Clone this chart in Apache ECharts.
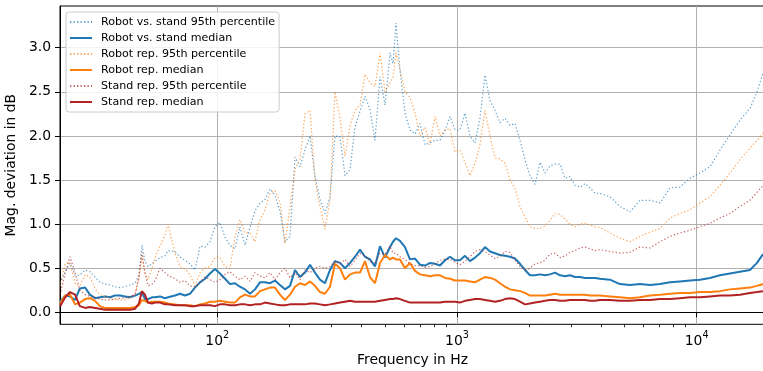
<!DOCTYPE html>
<html><head><meta charset="utf-8">
<script src="https://cdn.jsdelivr.net/npm/echarts@6/dist/echarts.min.js"></script>
<style>html,body{margin:0;padding:0;background:#fff}#c{width:763px;height:371px}</style>
</head><body><div id="c"></div>
<script>
// Frequencies (Hz) shared by all series
const freqHz = [
  22.1, 23.2, 24.3, 25.5, 26.7, 28.1, 29.4, 30.9, 32.4, 34.0, 35.7, 37.4, 39.3, 41.2, 43.2, 45.4,
  47.1, 48.5, 49.9, 51.4, 53.4, 55.0,
  57.7, 60.5, 62.3, 63.5,
  66.6, 69.9, 73.3, 76.9, 80.7, 84.7, 88.9, 93.2, 97.8, 102.6, 107.7, 113.0, 118.5, 124.3, 130.5, 136.9, 143.6, 150.7, 158.1, 165.9,
  174.1, 182.6, 191.6, 201.1, 211.0, 221.3, 232.2, 243.7, 255.6, 268.2, 281.4, 295.3, 309.8, 325.1, 341.1, 357.9, 375.5, 393.9, 413.3, 433.6,
  455.0, 477.4, 500.9, 525.6,
  540.8, 556.6,
  578.4, 606.8, 636.7, 668.1, 700.9, 735.5, 771.7, 809.6, 849.5, 891.3, 935.1, 981.1, 1029, 1080, 1133, 1189, 1247, 1309, 1373, 1441,
  1511, 1586, 1664, 1746, 1832, 1922, 2016, 2116, 2220, 2329, 2443, 2564, 2690, 2822, 2961, 3107, 3260, 3420, 3589, 3765, 3950,
  4348, 4786, 5268, 5799, 6385, 7030, 7738, 8518, 9376, 10322, 11363, 12508, 13768, 15156, 16684,
  17850, 18912
];

const robotVsStand95 = [
  0.33,0.46,0.56,0.42,0.42,0.48,0.46,0.40,0.34,0.32,0.31,0.29,0.28,0.29,0.31,0.33,
  0.42,0.76,0.58,0.52,0.55,0.58,
  0.62,0.64,0.70,0.70,
  0.69,0.63,0.59,0.55,0.48,0.75,0.74,0.80,0.97,1.02,0.85,0.76,0.72,0.97,0.76,0.96,1.15,1.24,1.28,1.40,
  1.32,1.15,0.80,0.86,1.76,1.65,1.84,2.00,1.54,1.28,1.12,1.31,2.00,1.99,1.55,1.62,2.10,2.28,2.45,2.30,
  1.95,2.67,2.35,2.94,
  2.82,3.28,
  2.75,2.26,2.07,2.02,2.14,1.90,1.92,1.95,1.95,2.06,2.22,2.07,2.07,2.26,2.00,1.92,2.20,2.69,2.40,2.29,
  2.15,2.20,2.12,2.14,1.95,1.73,1.55,1.45,1.70,1.58,1.66,1.68,1.68,1.52,1.54,1.44,1.42,1.46,1.41,1.35,1.35,
  1.31,1.20,1.14,1.27,1.27,1.24,1.41,1.42,1.52,1.58,1.65,1.84,2.01,2.18,2.31,
  2.50,2.71
];
const robotVsStandMedian = [
  0.12,0.19,0.18,0.14,0.27,0.28,0.20,0.16,0.17,0.18,0.17,0.19,0.19,0.18,0.17,0.19,
  0.21,0.23,0.15,0.15,0.17,0.17,
  0.18,0.16,0.17,0.17,
  0.19,0.21,0.19,0.21,0.28,0.34,0.38,0.44,0.49,0.44,0.38,0.32,0.33,0.29,0.26,0.21,0.26,0.34,0.34,0.33,
  0.36,0.31,0.26,0.30,0.48,0.40,0.45,0.54,0.45,0.37,0.33,0.48,0.58,0.56,0.50,0.56,0.63,0.71,0.63,0.60,
  0.52,0.75,0.62,0.74,
  0.80,0.84,
  0.81,0.74,0.60,0.61,0.54,0.53,0.56,0.55,0.53,0.59,0.63,0.59,0.59,0.64,0.58,0.62,0.67,0.74,0.69,0.67,
  0.65,0.64,0.63,0.61,0.55,0.48,0.42,0.42,0.43,0.42,0.43,0.45,0.42,0.41,0.42,0.40,0.40,0.39,0.39,0.39,0.38,
  0.37,0.32,0.31,0.32,0.31,0.32,0.34,0.35,0.36,0.37,0.39,0.42,0.44,0.46,0.48,
  0.56,0.66
];
const robotRep95 = [
  0.30,0.55,0.57,0.32,0.30,0.43,0.40,0.27,0.20,0.18,0.16,0.15,0.14,0.14,0.16,0.20,
  0.38,0.63,0.45,0.37,0.50,0.62,
  0.75,0.88,1.00,0.90,
  0.67,0.52,0.49,0.43,0.30,0.45,0.50,0.52,0.62,0.62,0.52,0.50,0.85,1.05,0.90,0.90,0.80,1.05,1.16,1.35,
  1.38,1.25,0.78,1.20,1.62,1.73,2.25,2.29,1.50,1.20,0.94,1.28,2.50,2.20,1.77,2.12,2.29,2.35,2.70,2.60,
  2.56,2.94,2.50,2.60,
  2.67,2.94,
  2.75,2.50,2.44,2.26,2.00,2.10,1.90,2.22,2.00,2.07,2.08,1.82,1.84,1.70,1.55,1.69,1.90,2.29,2.00,1.75,
  1.74,1.69,1.50,1.41,1.20,1.08,0.97,0.95,0.95,0.98,1.04,1.12,1.11,1.06,1.00,0.97,1.00,1.01,0.99,0.97,0.96,
  0.90,0.84,0.80,0.86,0.91,0.95,1.07,1.12,1.16,1.24,1.31,1.44,1.58,1.73,1.86,
  1.95,2.03
];
const robotRepMedian = [
  0.10,0.19,0.20,0.09,0.11,0.15,0.16,0.13,0.07,0.05,0.05,0.05,0.05,0.05,0.05,0.06,
  0.08,0.14,0.13,0.11,0.12,0.12,
  0.12,0.11,0.10,0.10,
  0.09,0.08,0.08,0.08,0.07,0.09,0.10,0.12,0.12,0.13,0.12,0.11,0.11,0.17,0.20,0.18,0.18,0.24,0.26,0.28,
  0.28,0.20,0.14,0.20,0.29,0.33,0.31,0.35,0.30,0.23,0.21,0.29,0.55,0.50,0.37,0.43,0.45,0.45,0.58,0.40,
  0.33,0.56,0.65,0.60,
  0.62,0.60,
  0.60,0.50,0.56,0.47,0.43,0.42,0.41,0.42,0.42,0.39,0.38,0.36,0.36,0.36,0.35,0.34,0.37,0.40,0.39,0.37,
  0.33,0.29,0.26,0.25,0.24,0.22,0.19,0.19,0.19,0.19,0.20,0.21,0.20,0.20,0.20,0.20,0.20,0.20,0.19,0.19,0.19,
  0.18,0.17,0.16,0.17,0.19,0.20,0.21,0.22,0.22,0.23,0.23,0.24,0.26,0.27,0.28,
  0.30,0.32
];
const standRep95 = [
  0.20,0.44,0.63,0.45,0.25,0.20,0.18,0.17,0.15,0.14,0.14,0.15,0.16,0.16,0.18,0.20,
  0.40,0.68,0.45,0.30,0.32,0.36,
  0.50,0.45,0.42,0.44,
  0.38,0.34,0.36,0.30,0.29,0.34,0.40,0.37,0.34,0.37,0.43,0.46,0.41,0.37,0.41,0.35,0.45,0.41,0.39,0.45,
  0.37,0.45,0.50,0.39,0.45,0.37,0.48,0.45,0.50,0.52,0.50,0.52,0.58,0.55,0.60,0.52,0.59,0.67,0.64,0.58,
  0.56,0.67,0.66,0.75,
  0.67,0.67,
  0.63,0.60,0.55,0.53,0.53,0.51,0.52,0.55,0.59,0.60,0.60,0.57,0.54,0.58,0.63,0.69,0.71,0.69,0.65,0.61,
  0.63,0.69,0.68,0.59,0.52,0.48,0.50,0.55,0.56,0.59,0.66,0.67,0.62,0.64,0.68,0.70,0.73,0.74,0.72,0.70,0.71,
  0.69,0.67,0.68,0.74,0.73,0.80,0.86,0.90,0.93,0.97,1.01,1.07,1.12,1.20,1.27,
  1.36,1.44
];
const standRepMedian = [
  0.07,0.17,0.23,0.20,0.07,0.05,0.06,0.05,0.04,0.03,0.03,0.03,0.03,0.03,0.03,0.04,
  0.10,0.24,0.20,0.11,0.10,0.11,
  0.11,0.09,0.09,0.09,
  0.08,0.08,0.08,0.07,0.07,0.08,0.08,0.08,0.07,0.09,0.09,0.08,0.08,0.09,0.09,0.08,0.09,0.09,0.11,0.10,
  0.09,0.08,0.08,0.09,0.09,0.09,0.09,0.10,0.10,0.09,0.08,0.09,0.10,0.11,0.12,0.13,0.12,0.12,0.12,0.12,
  0.12,0.13,0.14,0.15,
  0.15,0.16,
  0.15,0.13,0.11,0.11,0.11,0.11,0.11,0.11,0.11,0.12,0.12,0.12,0.11,0.13,0.14,0.15,0.15,0.14,0.13,0.12,
  0.13,0.15,0.16,0.15,0.12,0.09,0.10,0.11,0.12,0.13,0.14,0.14,0.13,0.13,0.14,0.14,0.14,0.14,0.13,0.13,0.14,
  0.14,0.13,0.13,0.14,0.14,0.15,0.15,0.16,0.17,0.17,0.18,0.19,0.19,0.20,0.22,
  0.23,0.24
];

const xMajorTicks = [100, 1000, 10000];
const xMinorTicks = [30,40,50,60,70,80,90,200,300,400,500,600,700,800,900,2000,3000,4000,5000,6000,7000,8000,9000];
const yTicks = [0, 0.5, 1.0, 1.5, 2.0, 2.5, 3.0];

const seriesDefs = [
  {name: 'Robot vs. stand 95th percentile', data: robotVsStand95, color: 'rgba(31,119,180,0.7)', dotted: true},
  {name: 'Robot vs. stand median', data: robotVsStandMedian, color: '#1f77b4', dotted: false},
  {name: 'Robot rep. 95th percentile', data: robotRep95, color: 'rgba(255,127,14,0.7)', dotted: true},
  {name: 'Robot rep. median', data: robotRepMedian, color: '#ff7f0e', dotted: false},
  {name: 'Stand rep. 95th percentile', data: standRep95, color: 'rgba(178,34,34,0.7)', dotted: true},
  {name: 'Stand rep. median', data: standRepMedian, color: '#b22222', dotted: false}
];

const FONT = 'DejaVu Sans';
const chart = echarts.init(document.getElementById('c'), null, {renderer: 'canvas'});
chart.setOption({
  animation: false,
  backgroundColor: '#fff',
  textStyle: {fontFamily: FONT},
  grid: {left: 60, top: 6, width: 705, height: 318.3, show: true, borderColor: '#000', borderWidth: 1,
         backgroundColor: 'transparent', containLabel: false, outerBoundsMode: 'none'},
  legend: {
    orient: 'vertical', left: 66, top: 12,
    padding: [4, 4, 4, 3],
    itemWidth: 22, itemHeight: 12, itemGap: 4,
    backgroundColor: 'rgba(255,255,255,0.85)', borderColor: '#cccccc', borderWidth: 1, borderRadius: 3,
    itemStyle: {opacity: 0},
    textStyle: {fontFamily: FONT, fontSize: 11.1, color: '#000', lineHeight: 12, padding: [0, 0, 0, 4]},
    data: seriesDefs.map(s => s.name)
  },
  xAxis: [{
    type: 'log', logBase: 10, min: 22.07, max: 19276,
    name: 'Frequency in Hz', nameLocation: 'middle', nameGap: 27,
    nameTextStyle: {fontFamily: FONT, fontSize: 13.9, color: '#000'},
    axisLine: {show: true, lineStyle: {color: '#000', width: 1}},
    axisTick: {show: true, length: 5, lineStyle: {color: '#000', width: 1}, customValues: xMajorTicks},
    axisLabel: {
      customValues: xMajorTicks, margin: 6,
      formatter: v => '{b|10}{s|' + Math.round(Math.log10(v)) + '}',
      rich: {
        b: {fontFamily: FONT, fontSize: 13.9, color: '#000', lineHeight: 18, verticalAlign: 'bottom'},
        s: {fontFamily: FONT, fontSize: 9.7, color: '#000', lineHeight: 10, verticalAlign: 'top'}
      }
    },
    splitLine: {show: true, lineStyle: {color: '#b0b0b0', width: 1}}
  }, {
    type: 'log', logBase: 10, min: 22.07, max: 19276, position: 'bottom',
    axisLine: {show: false},
    axisTick: {show: true, length: 3, lineStyle: {color: '#000', width: 0.8}, customValues: xMinorTicks},
    axisLabel: {show: false},
    splitLine: {show: false}
  }],
  yAxis: {
    type: 'value', min: -0.136, max: 3.473,
    name: 'Mag. deviation in dB', nameLocation: 'middle', nameGap: 36,
    nameTextStyle: {fontFamily: FONT, fontSize: 13.9, color: '#000'},
    axisLine: {show: true, lineStyle: {color: '#000', width: 1}},
    axisTick: {show: true, length: 5, lineStyle: {color: '#000', width: 1}, customValues: yTicks},
    axisLabel: {customValues: yTicks, margin: 9, fontFamily: FONT, fontSize: 13.9, color: '#000', formatter: v => v.toFixed(1)},
    splitLine: {show: true, lineStyle: {color: '#b0b0b0', width: 1}}
  },
  series: seriesDefs.map(s => ({
    name: s.name, type: 'line', xAxisIndex: 0,
    data: freqHz.map((f, i) => [f, s.data[i]]),
    symbol: 'none', showSymbol: false, smooth: false,
    lineStyle: s.dotted
      ? {color: s.color, width: 1.2, type: [1.3, 2.2], cap: 'butt'}
      : {color: s.color, width: 2},
    itemStyle: {color: s.color},
    emphasis: {disabled: true}
  }))
});
</script>
</body></html>
